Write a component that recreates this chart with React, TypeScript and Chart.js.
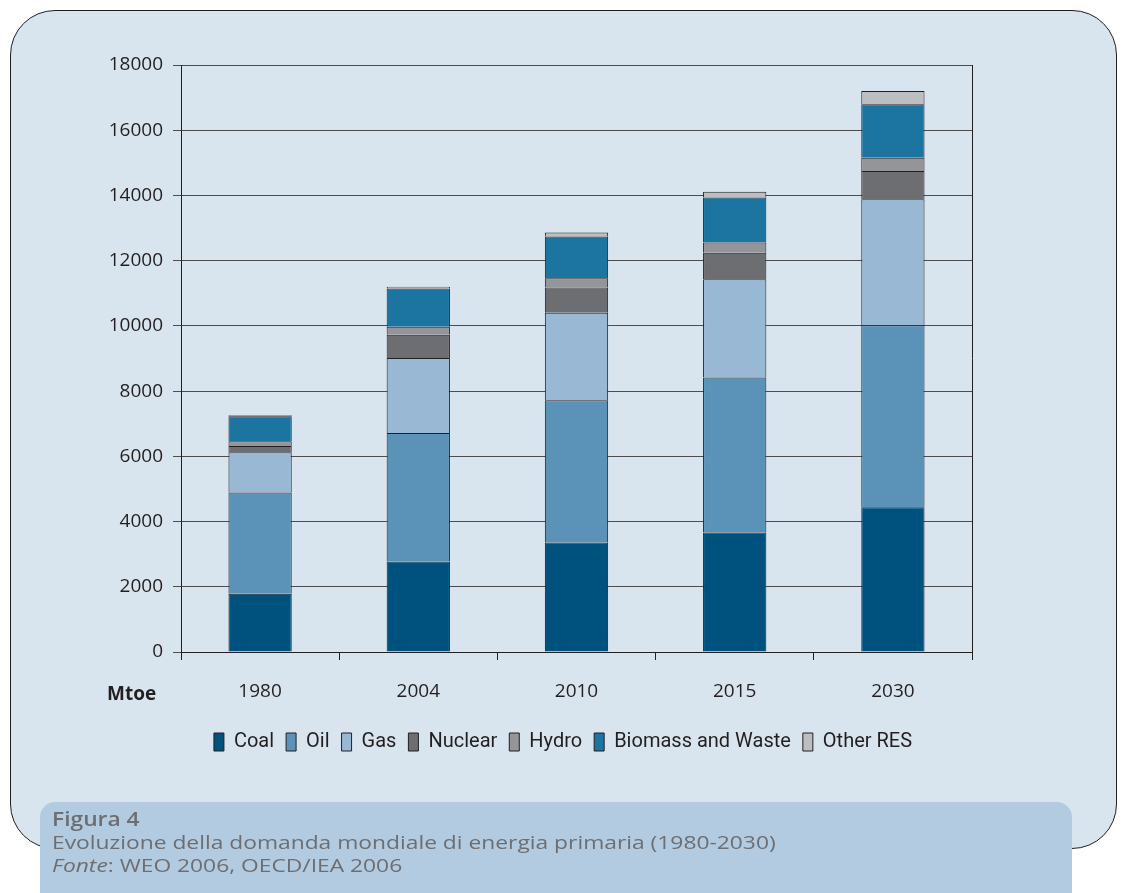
import React, { useEffect, useRef } from "react";
import { Chart, registerables } from "chart.js";

Chart.register(...registerables);

const categories = ["1980", "2004", "2010", "2015", "2030"];
const seriesNames = ["Coal", "Oil", "Gas", "Nuclear", "Hydro", "Biomass and Waste", "Other RES"];
const coal = [1785, 2773, 3354, 3666, 4441];
const oil = [3107, 3940, 4366, 4750, 5575];
const gas = [1237, 2302, 2686, 3017, 3869];
const nuclear = [186, 714, 775, 810, 861];
const hydro = [147, 242, 280, 317, 408];
const biomass = [765, 1176, 1283, 1375, 1645];
const otherRes = [33, 57, 116, 178, 400];
const seriesColors = ["#00527e", "#5b93b8", "#98b8d3", "#6d6e71", "#939598", "#1b75a0", "#bcbec0"];
const yTicks = [0, 2000, 4000, 6000, 8000, 10000, 12000, 14000, 16000, 18000];

const FONT = "'Open Sans', 'Noto Sans', sans-serif";
const LEGEND_FONT = "Roboto, 'Open Sans', sans-serif";

export default function App() {
  const canvasRef = useRef<HTMLCanvasElement | null>(null);

  useEffect(() => {
    document.body.style.margin = "0";
    const values = [coal, oil, gas, nuclear, hydro, biomass, otherRes];
    const rightBorder = {
      id: "rightBorder",
      afterLayout(chart: any) {
        if (chart.legend) {
          chart.legend.left = 154;
        }
      },
      afterDraw(chart: any) {
        const { ctx, chartArea } = chart;
        ctx.save();
        ctx.strokeStyle = "#231f20";
        ctx.lineWidth = 1;
        ctx.beginPath();
        ctx.moveTo(Math.round(chartArea.right) + 0.5, chartArea.top);
        ctx.lineTo(Math.round(chartArea.right) + 0.5, chartArea.bottom);
        ctx.stroke();
        ctx.restore();
      },
    };
    const chart = new Chart(canvasRef.current as HTMLCanvasElement, {
      type: "bar",
      data: {
        labels: categories,
        datasets: seriesNames.map((name, i) => ({
          label: name,
          data: values[i],
          backgroundColor: seriesColors[i],
          borderColor: "#231f20",
          borderWidth: 1,
          barPercentage: 0.8,
          categoryPercentage: 0.5,
        })),
      },
      options: {
        animation: false,
        responsive: false,
        maintainAspectRatio: false,
        layout: { padding: { left: 0, right: 151, top: 65, bottom: 131 } },
        plugins: {
          tooltip: { enabled: false },
          legend: {
            position: "bottom",
            labels: {
              boxWidth: 10,
              boxHeight: 18,
              padding: 12,
              color: "#231f20",
              font: { family: LEGEND_FONT, size: 20 },
            },
          },
        },
        scales: {
          x: {
            stacked: true,
            afterFit(scale: any) {
              scale.height = 68;
            },
            grid: {
              display: true,
              offset: true,
              drawOnChartArea: false,
              drawTicks: true,
              tickLength: 8,
              color: "#231f20",
            },
            border: { display: true, color: "#231f20", width: 1 },
            ticks: {
              color: "#231f20",
              padding: 20,
              font: { family: FONT, size: 19 },
            },
          },
          y: {
            stacked: true,
            min: 0,
            max: 18000,
            afterFit(scale: any) {
              scale.width = 181;
            },
            afterBuildTicks(scale: any) {
              scale.ticks = yTicks.map((v) => ({ value: v }));
            },
            grid: {
              color: "#4d4d4f",
              lineWidth: 1,
              drawTicks: true,
              tickLength: 8,
            },
            border: { display: true, color: "#231f20", width: 1 },
            ticks: {
              color: "#231f20",
              padding: 10,
              font: { family: FONT, size: 19 },
              callback: (v: any) => String(v),
            },
          },
        },
      },
      plugins: [rightBorder],
    } as any);
    return () => chart.destroy();
  }, []);

  return (
    <div style={{ position: "fixed", left: 0, top: 0, width: 1123, height: 893, background: "#ffffff", overflow: "hidden" }}>
      <div
        style={{
          position: "absolute",
          left: 10,
          top: 10,
          width: 1107,
          height: 839,
          background: "#d9e5ee",
          border: "1.5px solid #231f20",
          borderRadius: 45,
          boxSizing: "border-box",
        }}
      />
      <canvas
        ref={canvasRef}
        width={1123}
        height={893}
        style={{ position: "absolute", left: 0, top: 0, width: 1123, height: 893 }}
      />
      <div
        style={{
          position: "absolute",
          left: 107,
          top: 680,
          fontFamily: FONT,
          fontWeight: 700,
          fontSize: 19,
          color: "#231f20",
        }}
      >
        Mtoe
      </div>
      <div
        style={{
          position: "absolute",
          left: 40,
          top: 802,
          width: 1032,
          height: 110,
          background: "#b3cbe0",
          borderRadius: 15,
        }}
      />
      <div
        style={{
          position: "absolute",
          left: 52,
          top: 808,
          fontFamily: FONT,
          fontSize: 19,
          lineHeight: "23px",
          color: "#6d6e71",
          whiteSpace: "nowrap",
          transform: "scaleX(1.2)",
          transformOrigin: "left top",
        }}
      >
        <div style={{ fontWeight: 600 }}>Figura 4</div>
        <div>Evoluzione della domanda mondiale di energia primaria (1980-2030)</div>
        <div>
          <i>Fonte</i>: WEO 2006, OECD/IEA 2006
        </div>
      </div>
    </div>
  );
}
